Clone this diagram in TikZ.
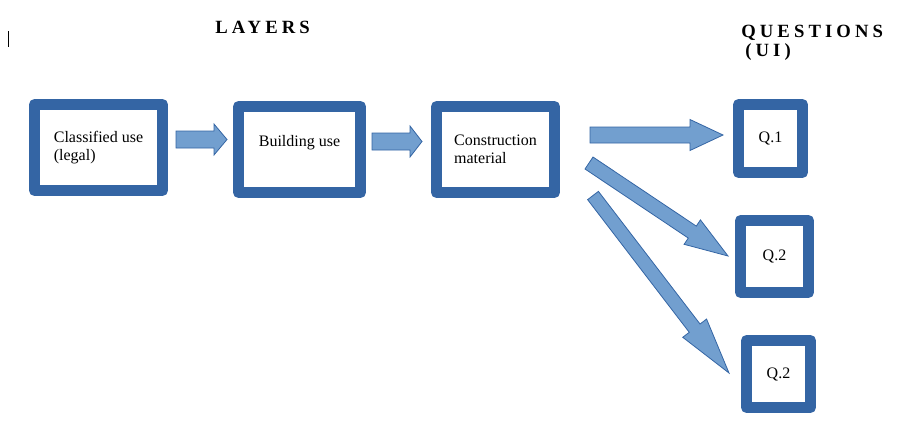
\documentclass[tikz,border=0pt]{standalone}
\usepackage{fontspec}
\setmainfont{Liberation Serif}
\usetikzlibrary{calc}
\definecolor{boxblue}{HTML}{3465A4}
\definecolor{arrowblue}{HTML}{729FCF}

% block arrow: tail, tip, head length, shaft half width, head half width (px)
\newcommand{\blockarrow}[5]{%
  \pgfmathsetmacro\arrK{#3*0.75}\pgfmathsetmacro\arrS{#4*0.75}\pgfmathsetmacro\arrH{#5*0.75}%
  \pgfmathsetmacro\radS{veclen(\arrK,\arrS)}\pgfmathsetmacro\angS{atan2(\arrS,\arrK)}%
  \pgfmathsetmacro\radH{veclen(\arrK,\arrH)}\pgfmathsetmacro\angH{atan2(\arrH,\arrK)}%
  \draw[barrow] ($(#1)!\arrS pt!90:(#2)$) -- ($(#2)!\radS pt!-\angS:(#1)$)
    -- ($(#2)!\radH pt!-\angH:(#1)$) -- (#2) -- ($(#2)!\radH pt!\angH:(#1)$)
    -- ($(#2)!\radS pt!\angS:(#1)$) -- ($(#1)!\arrS pt!-90:(#2)$) -- cycle;}

\begin{document}
\begin{tikzpicture}[x=0.75pt,y=-0.75pt,font=\fontsize{12}{13.5}\selectfont,
  layer/.style={draw=boxblue,line width=8.25pt,line join=round,inner sep=0pt,outer sep=0pt,minimum height=64.5pt,align=left},
  qbox/.style={draw=boxblue,line width=8.25pt,line join=round,inner sep=0pt,outer sep=0pt},
  barrow/.style={draw=boxblue,fill=arrowblue,line width=0.6pt,line join=miter},
  title/.style={font=\fontsize{14}{14.5}\selectfont\bfseries\addfontfeature{LetterSpace=22},inner sep=0pt,anchor=base west}]
\useasboundingbox (0,0) rectangle (905,429);

% titles
\node[title] (layers) at (215,33) {LAYERS};
\node[title] (questions) at (741,37) {QUESTIONS};
\node[title] (ui) at (745,56) {(UI)};
\draw[line width=0.75pt] (8,31) -- (8,47);

% layers
\node[layer,minimum width=96pt] (cls) at (98.5,147.5) {Classified use\\(legal)};
\node[layer,minimum width=91.5pt] (bld) at (299.5,149.5) {Building use\\\mbox{}};
\node[layer,minimum width=88.5pt] (con) at (495.5,149.5) {Construction\\material};

% questions
\foreach \nm/\cx/\cy/\w/\h/\txt in {q1/770.5/138.5/64/68/Q.1,q2/774.5/256.5/68/72/Q.2,q3/778.5/374/64/67/Q.2}
  \node[qbox,minimum width=\w*0.75pt,minimum height=\h*0.75pt] (\nm) at (\cx,\cy) {\txt};

% arrow ends
\coordinate (a1s) at ($(cls.east)+(13.5,-8)$);
\coordinate (a1e) at ($(bld.west)+(-11.5,-10)$);
\coordinate (a2s) at ($(bld.east)+(11.5,-8)$);
\coordinate (a2e) at ($(con.west)+(-14.5,-8)$);
\coordinate (a3s) at ($(con.east)+(35.5,-14.5)$);
\coordinate (a3e) at ($(q1.west)+(-15.5,-3.5)$);
\coordinate (a4s) at ($(con.east)+(34.5,13.5)$);
\coordinate (a4e) at ($(q2.west)+(-12.5,-0.5)$);
\coordinate (a5s) at ($(con.east)+(38.5,46)$);
\coordinate (a5e) at ($(q3.west)+(-17.5,-1)$);

\blockarrow{a1s}{a1e}{13}{8.5}{15.5}
\blockarrow{a2s}{a2e}{12}{8.5}{15.5}
\blockarrow{a3s}{a3e}{33}{8}{15.5}
\blockarrow{a4s}{a4e}{43}{7.2}{14.7}
\blockarrow{a5s}{a5e}{56.5}{6.8}{15}
\end{tikzpicture}
\end{document}
